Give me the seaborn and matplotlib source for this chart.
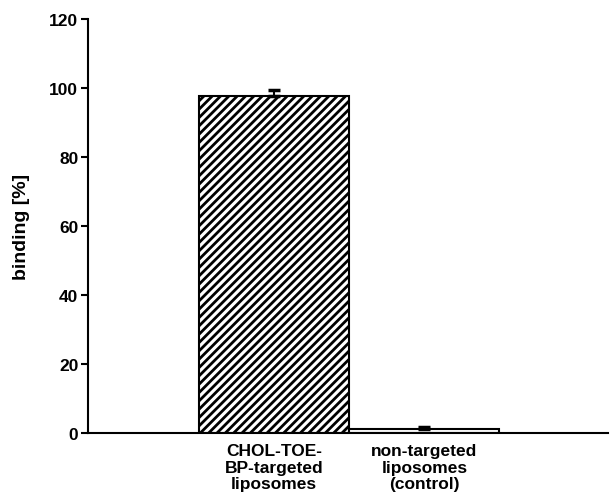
import matplotlib
matplotlib.use("Agg")
import matplotlib.pyplot as plt
import seaborn as sns
import pandas as pd

categories = ["CHOL-TOE-\nBP-targeted\nliposomes", "non-targeted\nliposomes\n(control)"]
values = [97.6, 1.2]
errors = [1.7, 0.6]
yticks = [0, 20, 40, 60, 80, 100, 120]

sns.set_theme(style="white")
plt.rcParams['font.family'] = ['Liberation Sans', 'DejaVu Sans']
plt.rcParams['font.weight'] = 'bold'
plt.rcParams['hatch.linewidth'] = 2.0
plt.rcParams['text.color'] = 'black'
plt.rcParams['axes.labelcolor'] = 'black'
plt.rcParams['xtick.color'] = 'black'
plt.rcParams['ytick.color'] = 'black'

fig = plt.figure(figsize=(6.1, 5.02), dpi=100)
ax = fig.add_axes([0.1443, 0.1355, 0.8527, 0.8247])

df = pd.DataFrame({"group": categories, "binding": values})
sns.barplot(data=df, x="group", y="binding", ax=ax, width=1.0,
            color="white", edgecolor="black", linewidth=1.5, errorbar=None)

hatches = ["////", ""]
for p, h in zip(ax.patches, hatches):
    p.set_hatch(h)
    p.set_facecolor("white")
    p.set_edgecolor("black")

ax.errorbar(x=[0, 1], y=values, yerr=[[0, 0], errors], fmt="none",
            ecolor="black", elinewidth=1.5, capsize=4.5, capthick=2.5)

ax.set_xlim(-1.237, 2.223)
ax.set_ylim(0, 120)
ax.set_yticks(yticks)
ax.set_yticklabels([str(v) for v in yticks], fontsize=12.5, fontweight="bold")
ax.set_xticks([0, 1])
ax.set_xticklabels(categories, fontsize=12.5, fontweight="bold", linespacing=1.15)
ax.tick_params(axis="x", length=0, pad=7)
ax.tick_params(axis="y", length=5, width=1.5, direction="out", left=True, pad=2)
ax.set_xlabel("")
ax.set_ylabel("binding [%]", fontsize=14, fontweight="bold", labelpad=14)

for s in ["top", "right"]:
    ax.spines[s].set_visible(False)
for s in ["left", "bottom"]:
    ax.spines[s].set_color("black")
    ax.spines[s].set_linewidth(1.5)

fig.savefig("out.png", dpi=100, facecolor="white")
